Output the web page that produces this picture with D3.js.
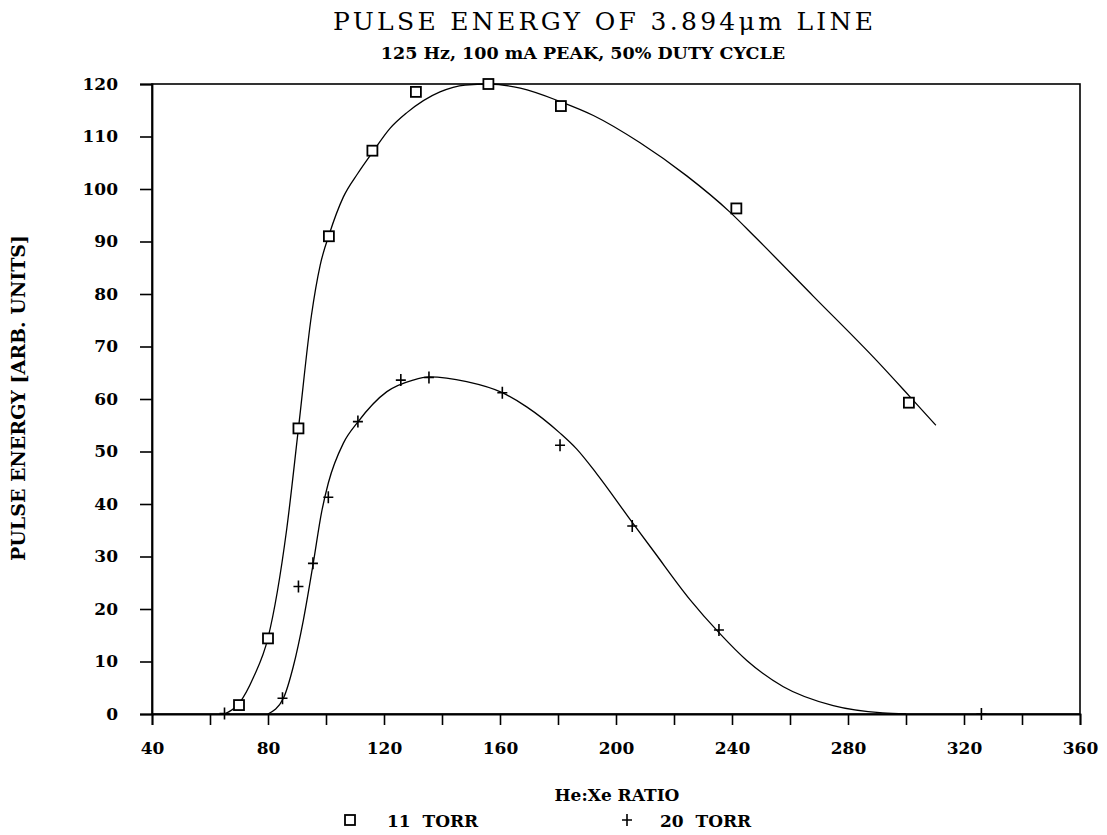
<!DOCTYPE html>
<html>
<head>
<meta charset="utf-8">
<script src="https://cdn.jsdelivr.net/npm/d3@7"></script>
<style>
  body { margin: 0; background: #fff; }
  text { fill: #000; }
</style>
</head>
<body>
<svg id="chart" width="1107" height="835"></svg>
<script>
// measured points
const torr11X = [70, 80, 90.5, 101, 116, 131, 156, 181, 241.5, 301];
const torr11Y = [1.7, 14.4, 54.4, 91, 107.3, 118.5, 120, 115.8, 96.3, 59.3];
const torr20X = [65, 85, 90.5, 95.5, 100.8, 111, 125.8, 135.5, 160.8, 180.7, 205.6, 235.5, 326];
const torr20Y = [0.1, 3, 24.3, 28.7, 41.3, 55.7, 63.6, 64.1, 61.2, 51.2, 35.8, 16, 0];

// fitted curves
const fit11X = [65, 70, 75, 80, 86.4, 90.5, 95, 98, 101.2, 106, 111, 116.3, 122, 127.8, 139.3, 148, 156.3, 167, 181, 192.2, 208.3, 224.4, 239.3, 247.9, 268, 289.9, 301.4, 310.3];
const fit11Y = [0, 2, 7, 14.5, 35, 54.4, 76, 85.5, 91.5, 98.5, 103, 107.2, 111.5, 114.5, 118.5, 119.8, 120, 119.2, 116.6, 114, 108.8, 102.5, 95.6, 90.9, 79.6, 67.3, 60.4, 55];
const fit20X = [80, 85.3, 88.7, 92.2, 95.6, 98.5, 100.8, 106, 111.1, 121, 130, 135.6, 148.5, 160.8, 169.2, 180.7, 186.4, 193.3, 205.6, 213, 225.5, 235.5, 245.1, 257.7, 274.9, 292, 300];
const fit20Y = [0, 3, 9, 17.9, 28.7, 38.5, 44, 51.6, 55.7, 61.4, 63.6, 64.2, 63.3, 61.2, 58.5, 53.5, 50.5, 45.8, 36.5, 31, 21.8, 15.5, 10.2, 5.2, 1.6, 0.2, 0];

const xTicks = d3.range(40, 361, 20);
const xTickLabels = [40, 80, 120, 160, 200, 240, 280, 320, 360];
const yTicks = [0, 10, 20, 30, 40, 50, 60, 70, 80, 90, 100, 110, 120];

const svg = d3.select("#chart");
const x = d3.scaleLinear().domain([40, 360]).range([152, 1080]);
const y = d3.scaleLinear().domain([0, 120]).range([714, 84]);

const serif = "'DejaVu Serif', serif";

svg.append("text")
  .attr("x", 603).attr("y", 30)
  .attr("text-anchor", "middle")
  .attr("font-family", serif)
  .attr("font-size", 25)
  .attr("textLength", 540)
  .attr("lengthAdjust", "spacing")
  .text("PULSE ENERGY OF 3.894μm LINE");

svg.append("text")
  .attr("x", 583).attr("y", 59)
  .attr("text-anchor", "middle")
  .attr("font-family", serif)
  .attr("font-weight", "bold")
  .attr("font-size", 17.5)
  .text("125 Hz, 100 mA PEAK, 50% DUTY CYCLE");

// frame
svg.append("rect")
  .attr("x", x(40)).attr("y", y(120))
  .attr("width", x(360) - x(40)).attr("height", y(0) - y(120))
  .attr("fill", "none").attr("stroke", "#000").attr("stroke-width", 1.6);

const xAxis = svg.append("g")
  .attr("transform", `translate(0,${y(0)})`)
  .call(d3.axisBottom(x).tickValues(xTicks).tickSize(11).tickPadding(17)
    .tickFormat((d) => (xTickLabels.includes(d) ? d : "")));
const yAxis = svg.append("g")
  .attr("transform", `translate(${x(40)},0)`)
  .call(d3.axisLeft(y).tickValues(yTicks).tickSize(12).tickPadding(22));

[xAxis, yAxis].forEach((g) => {
  g.select(".domain").attr("stroke-width", 1.8);
  g.selectAll(".tick line").attr("stroke-width", 1.6);
  g.selectAll("text")
    .attr("font-family", serif)
    .attr("font-weight", "bold")
    .attr("font-size", 17);
});

svg.append("text")
  .attr("transform", "translate(25,398) rotate(-90)")
  .attr("text-anchor", "middle")
  .attr("font-family", serif)
  .attr("font-weight", "bold")
  .attr("font-size", 19)
  .text("PULSE ENERGY [ARB. UNITS]");

svg.append("text")
  .attr("x", 617).attr("y", 801)
  .attr("text-anchor", "middle")
  .attr("font-family", serif)
  .attr("font-weight", "bold")
  .attr("font-size", 17)
  .text("He:Xe RATIO");

const line = d3.line()
  .x((d) => x(d[0]))
  .y((d) => y(d[1]))
  .curve(d3.curveMonotoneX);

svg.append("path")
  .datum(d3.zip(fit11X, fit11Y))
  .attr("fill", "none").attr("stroke", "#000").attr("stroke-width", 1.3)
  .attr("d", line);
svg.append("path")
  .datum(d3.zip(fit20X, fit20Y))
  .attr("fill", "none").attr("stroke", "#000").attr("stroke-width", 1.3)
  .attr("d", line);

function square(g, cx, cy) {
  g.append("rect")
    .attr("x", cx - 5).attr("y", cy - 5)
    .attr("width", 10).attr("height", 10)
    .attr("fill", "#fff").attr("stroke", "#000").attr("stroke-width", 1.8);
}
function plus(g, cx, cy) {
  g.append("path")
    .attr("d", `M${cx - 5},${cy}H${cx + 5}M${cx},${cy - 6}V${cy + 6}`)
    .attr("stroke", "#000").attr("stroke-width", 1.6);
}

const marks = svg.append("g");
d3.zip(torr11X, torr11Y).forEach((d) => square(marks, x(d[0]), y(d[1])));
d3.zip(torr20X, torr20Y).forEach((d) => plus(marks, x(d[0]), y(d[1])));

// legend
const legend = svg.append("g")
  .attr("font-family", serif)
  .attr("font-weight", "bold")
  .attr("font-size", 17);
square(legend, 350, 820);
legend.append("text").attr("x", 387).attr("y", 827)
  .style("white-space", "pre").text("11  TORR");
plus(legend, 627, 820);
legend.append("text").attr("x", 660).attr("y", 827)
  .style("white-space", "pre").text("20  TORR");
</script>
</body>
</html>
